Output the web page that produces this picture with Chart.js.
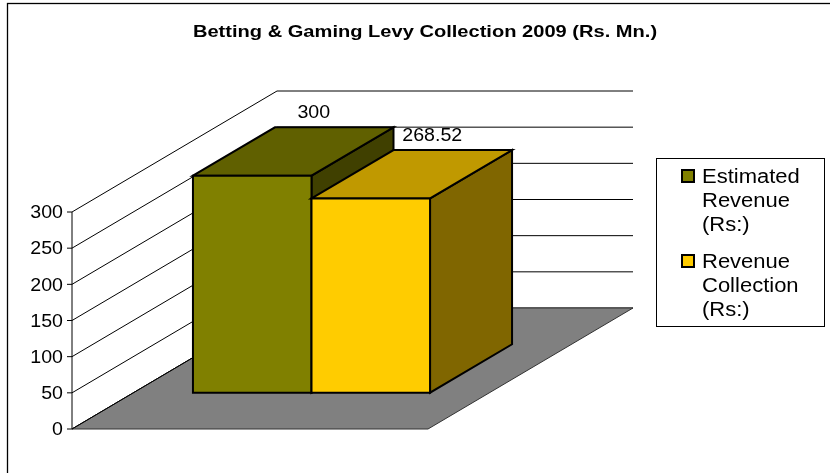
<!DOCTYPE html>
<html>
<head>
<meta charset="utf-8">
<script src="https://cdn.jsdelivr.net/npm/chart.js@4.4.0/dist/chart.umd.min.js"></script>
<style>
  html, body { margin: 0; padding: 0; background: #fff; }
  canvas { display: block; }
</style>
</head>
<body>
<canvas id="chart" width="830" height="473"></canvas>
<script>
/* levy collection 2009 - 3d column look */

const TITLE = 'Betting & Gaming Levy Collection 2009 (Rs. Mn.)';
const categories = ['2009'];
const seriesNames = [['Estimated', 'Revenue', '(Rs:)'], ['Revenue', 'Collection', '(Rs:)']];
const estimatedRevenue = [300];
const revenueCollection = [268.52];
const yTicks = [0, 50, 100, 150, 200, 250, 300];

const FRONT = ['#808000', '#ffcc00'];
const TOP = ['#606000', '#c09900'];
const SIDE = ['#404000', '#806600'];

const DEPTH = { x: 205, y: -121 };   // floor front -> back
const BAR_FRONT = 0.3, BAR_BACK = 0.7;
const FONT = '"Liberation Sans", Arial, sans-serif';

// picture is a bit stretched sideways, so text gets a horizontal scale
function txt(ctx, s, x, y, align, font, sx) {
  ctx.save();
  ctx.font = font;
  ctx.textAlign = align;
  ctx.textBaseline = 'alphabetic';
  ctx.translate(x, y);
  ctx.scale(sx || 1.12, 1);
  ctx.fillText(s, 0, 0);
  ctx.restore();
}

function poly(ctx, pts, fill, stroke, lw) {
  ctx.beginPath();
  pts.forEach((p, i) => i ? ctx.lineTo(p[0], p[1]) : ctx.moveTo(p[0], p[1]));
  ctx.closePath();
  if (fill) { ctx.fillStyle = fill; ctx.fill(); }
  if (stroke) { ctx.strokeStyle = stroke; ctx.lineWidth = lw || 1; ctx.stroke(); }
}

function line(ctx, x0, y0, x1, y1, color, lw) {
  ctx.beginPath();
  ctx.moveTo(x0, y0);
  ctx.lineTo(x1, y1);
  ctx.strokeStyle = color;
  ctx.lineWidth = lw || 1;
  ctx.stroke();
}

const Box3D = {
  id: 'box3d',
  beforeDraw(chart) {
    const ctx = chart.ctx;
    ctx.save();
    ctx.fillStyle = '#fff';
    ctx.fillRect(0, 0, chart.width, chart.height);
    ctx.restore();
  },
  beforeDatasetsDraw() { return false; },
  afterDraw(chart) {
    const ctx = chart.ctx;
    const area = chart.chartArea;
    const ys = chart.scales.y;
    const L = area.left, R = area.right, B = area.bottom;
    ctx.save();

    // outer frame
    ctx.strokeStyle = '#000';
    ctx.lineWidth = 1.3;
    ctx.strokeRect(7.5, 3.5, 840, 480);

    // title
    ctx.fillStyle = '#000';
    txt(ctx, TITLE, 425, 36.7, 'center', 'bold 16.5px ' + FONT, 1.217);

    // walls
    yTicks.forEach(t => {
      const yf = ys.getPixelForValue(t);
      line(ctx, L, yf, L + DEPTH.x, yf + DEPTH.y, '#000', 1);
      line(ctx, L + DEPTH.x, yf + DEPTH.y, R + DEPTH.x, yf + DEPTH.y, '#000', 1);
      line(ctx, L - 5, yf, L, yf, '#000', 1);
      ctx.fillStyle = '#000';
      txt(ctx, String(t), 63, yf + 6.3, 'right', '17.5px ' + FONT);
    });
    line(ctx, L, ys.getPixelForValue(yTicks[yTicks.length - 1]), L, B, '#000', 1);

    // floor
    poly(ctx, [[L, B], [R, B], [R + DEPTH.x, B + DEPTH.y], [L + DEPTH.x, B + DEPTH.y]], '#808080', '#333', 1);
    line(ctx, L, B, L + DEPTH.x, B + DEPTH.y, '#000', 1);

    // bars
    const f = { x: DEPTH.x * BAR_FRONT, y: DEPTH.y * BAR_FRONT };
    const b = { x: DEPTH.x * BAR_BACK, y: DEPTH.y * BAR_BACK };
    chart.data.datasets.forEach((ds, i) => {
      const meta = chart.getDatasetMeta(i);
      meta.data.forEach(el => {
        const x0 = el.x - el.width / 2, x1 = el.x + el.width / 2;
        const yT = el.y, yB = el.base;
        poly(ctx, [[x1 + f.x, yT + f.y], [x1 + b.x, yT + b.y], [x1 + b.x, yB + b.y], [x1 + f.x, yB + f.y]], SIDE[i], '#000', 2);
        poly(ctx, [[x0 + f.x, yT + f.y], [x0 + b.x, yT + b.y], [x1 + b.x, yT + b.y], [x1 + f.x, yT + f.y]], TOP[i], '#000', 2);
        poly(ctx, [[x0 + f.x, yT + f.y], [x1 + f.x, yT + f.y], [x1 + f.x, yB + f.y], [x0 + f.x, yB + f.y]], FRONT[i], '#000', 2);
      });
    });

    // value labels
    chart.data.datasets.forEach((ds, i) => {
      const meta = chart.getDatasetMeta(i);
      meta.data.forEach((el, j) => {
        ctx.fillStyle = '#000';
        const lx = el.x + DEPTH.x * 0.6;
        const ly = el.y + DEPTH.y * 0.6 - 21.5;
        txt(ctx, String(ds.data[j]), lx, ly, 'center', '17.5px ' + FONT);
      });
    });

    // legend
    ctx.strokeStyle = '#000';
    ctx.lineWidth = 1;
    ctx.strokeRect(656.5, 158.5, 168, 168);
    const centers = [176, 261];
    chart.data.datasets.forEach((ds, i) => {
      const cy = centers[i];
      ctx.fillStyle = FRONT[i];
      ctx.fillRect(682, cy - 6, 12, 12);
      ctx.strokeStyle = '#000';
      ctx.lineWidth = 2;
      ctx.strokeRect(682, cy - 6, 12, 12);
      ctx.fillStyle = '#000';
      seriesNames[i].forEach((s, k) => {
        txt(ctx, s, 702, cy + 7 + k * 24.2, 'left', '20px ' + FONT, 1.1);
      });
    });

    ctx.restore();
  }
};

new Chart(document.getElementById('chart'), {
  type: 'bar',
  data: {
    labels: categories,
    datasets: [
      { label: seriesNames[0].join(' '), data: estimatedRevenue, backgroundColor: FRONT[0] },
      { label: seriesNames[1].join(' '), data: revenueCollection, backgroundColor: FRONT[1] }
    ]
  },
  options: {
    responsive: false,
    animation: false,
    layout: { padding: { left: 72, right: 402, top: 212, bottom: 44 } },
    datasets: { bar: { categoryPercentage: 0.666, barPercentage: 1 } },
    scales: {
      x: { display: false },
      y: { display: false, min: 0, max: 300, ticks: { stepSize: 50 } }
    },
    plugins: { legend: { display: false }, title: { display: false }, tooltip: { enabled: false } }
  },
  plugins: [Box3D]
});
</script>
</body>
</html>
